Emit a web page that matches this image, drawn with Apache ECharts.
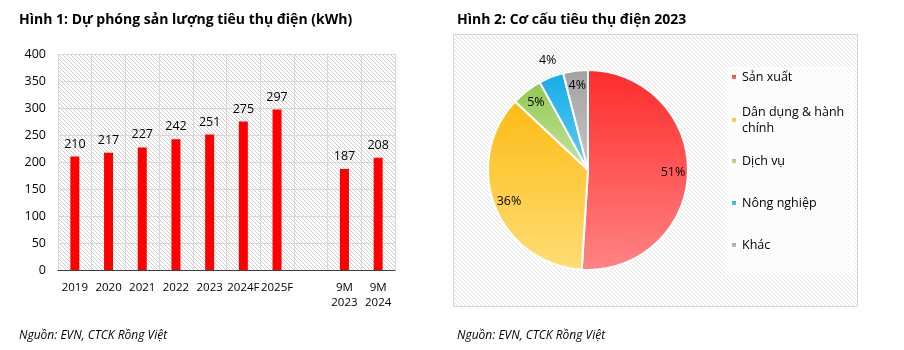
<!DOCTYPE html>
<html>
<head>
<meta charset="utf-8">
<script src="https://cdn.jsdelivr.net/npm/echarts@6/dist/echarts.min.js"></script>
<style>
  html, body { margin: 0; padding: 0; background: #fff; }
  #chart { width: 904px; height: 350px; }
</style>
</head>
<body>
<div id="chart"></div>
<script>
// Hình 1: sản lượng tiêu thụ điện (kWh)
const periods = ['2019', '2020', '2021', '2022', '2023', '2024F', '2025F', '', '9M\n2023', '9M\n2024'];
const consumption = [210, 217, 227, 242, 251, 275, 297, '-', 187, 208];

// Hình 2: cơ cấu tiêu thụ điện 2023 (%)
const sectors = ['Sản xuất', 'Dân dụng & hành chính', 'Dịch vụ', 'Nông nghiệp', 'Khác'];
const shares = [51, 36, 5, 4, 4];

const sectorColors = [
  ['#ff2b2b', '#ff8484'],
  ['#fdbb14', '#fedd76'],
  ['#92c850', '#c6e49e'],
  ['#14ace8', '#62ccf3'],
  ['#a2a2a2', '#c6c6c6']
];
const legendCenters = [77, 120, 161, 203, 245];

const FONT = '"Open Sans", "Noto Sans", sans-serif';

// nền gạch chéo
function hatch(color, step) {
  const c = document.createElement('canvas');
  c.width = c.height = step;
  const ctx = c.getContext('2d');
  ctx.fillStyle = '#fff';
  ctx.fillRect(0, 0, step, step);
  ctx.fillStyle = color;
  for (let i = 0; i < step; i++) ctx.fillRect(i, i, 1, 1);
  return c;
}

const chart = echarts.init(document.getElementById('chart'));

const pieData = sectors.map((name, i) => ({
  name: name,
  value: shares[i],
  itemStyle: {
    color: new echarts.graphic.LinearGradient(0, 0, 0, 1, [
      { offset: 0, color: sectorColors[i][0] },
      { offset: 1, color: sectorColors[i][1] }
    ])
  }
}));

// lớp trong suốt chỉ để đặt nhãn gần mép ngoài
const labelData = sectors.map((name, i) => ({
  name: name,
  value: shares[i],
  label: name === 'Nông nghiệp' ? { offset: [-9, -31] } : {}
}));

const legends = sectors.map((name, i) => ({
  data: [{
    name: name,
    textStyle: name === 'Dân dụng & hành chính' ? { padding: [16, 0, 0, 0] } : {}
  }],
  left: 730,
  top: name === 'Dân dụng & hành chính' ? legendCenters[i] - 24 : legendCenters[i] - 8,
  padding: 0,
  icon: 'rect',
  itemWidth: 6,
  itemHeight: 6,
  selectedMode: false,
  formatter: n => n === 'Dân dụng & hành chính' ? 'Dân dụng & hành\nchính' : n,
  textStyle: { fontFamily: FONT, fontSize: 12.5, color: '#000', lineHeight: 16 }
}));

chart.setOption({
  animation: false,
  textStyle: { fontFamily: FONT },
  title: [
    {
      text: 'Hình 1: Dự phóng sản lượng tiêu thụ điện (kWh)',
      left: 14, top: 8,
      textStyle: { fontFamily: FONT, fontSize: 14, fontWeight: 'bold', color: '#000' }
    },
    {
      text: 'Hình 2: Cơ cấu tiêu thụ điện 2023',
      left: 452, top: 8,
      textStyle: { fontFamily: FONT, fontSize: 14, fontWeight: 'bold', color: '#000' }
    },
    {
      text: 'Nguồn: EVN, CTCK Rồng Việt',
      left: 14, top: 325,
      textStyle: { fontFamily: FONT, fontSize: 12, fontStyle: 'italic', fontWeight: 'normal', color: '#000' }
    },
    {
      text: 'Nguồn: EVN, CTCK Rồng Việt',
      left: 452, top: 325,
      textStyle: { fontFamily: FONT, fontSize: 12, fontStyle: 'italic', fontWeight: 'normal', color: '#000' }
    }
  ],
  graphic: [
    {
      type: 'rect',
      shape: { x: 453.5, y: 34.5, width: 404, height: 272 },
      style: { fill: { image: hatch('#e3e3e3', 4), repeat: 'repeat' }, stroke: '#d6d6d6', lineWidth: 1 }
    },
    {
      type: 'rect',
      shape: { x: 725, y: 67, width: 130, height: 208 },
      style: { fill: 'rgba(255,255,255,0.75)' }
    }
  ],
  legend: legends,
  grid: {
    left: 58, right: 509, top: 54, bottom: 80,
    show: true,
    borderWidth: 0,
    backgroundColor: { image: hatch('#cfcfcf', 4), repeat: 'repeat' }
  },
  xAxis: {
    type: 'category',
    data: periods,
    axisLine: { lineStyle: { color: '#404040', width: 1 } },
    axisTick: { show: false },
    splitLine: { show: true, lineStyle: { color: '#d9d9d9' } },
    axisLabel: { interval: 0, color: '#000', fontSize: 11.5, margin: 10, lineHeight: 15 }
  },
  yAxis: {
    type: 'value',
    min: 0, max: 400, interval: 50,
    axisLine: { show: false },
    axisTick: { show: false },
    splitLine: { lineStyle: { color: '#d9d9d9' } },
    axisLabel: { color: '#000', fontSize: 12.5, margin: 12 }
  },
  series: [
    {
      type: 'bar',
      data: consumption,
      barWidth: 9,
      itemStyle: { color: '#ff0000' },
      label: { show: true, position: 'top', distance: 6, color: '#000', fontSize: 12.5 }
    },
    {
      type: 'pie',
      center: [588, 170],
      radius: [0, 100],
      startAngle: 90,
      clockwise: true,
      data: pieData,
      label: { show: false },
      labelLine: { show: false },
      itemStyle: { borderColor: '#fff', borderWidth: 2 },
      emphasis: { disabled: true }
    },
    {
      type: 'pie',
      center: [588, 170],
      radius: [62, 102],
      startAngle: 90,
      clockwise: true,
      silent: true,
      data: labelData,
      itemStyle: { color: 'rgba(0,0,0,0)', borderWidth: 0 },
      label: { show: true, position: 'inside', formatter: '{c}%', color: '#000', fontSize: 12.5 },
      labelLine: { show: false },
      emphasis: { disabled: true }
    }
  ]
});
</script>
</body>
</html>
